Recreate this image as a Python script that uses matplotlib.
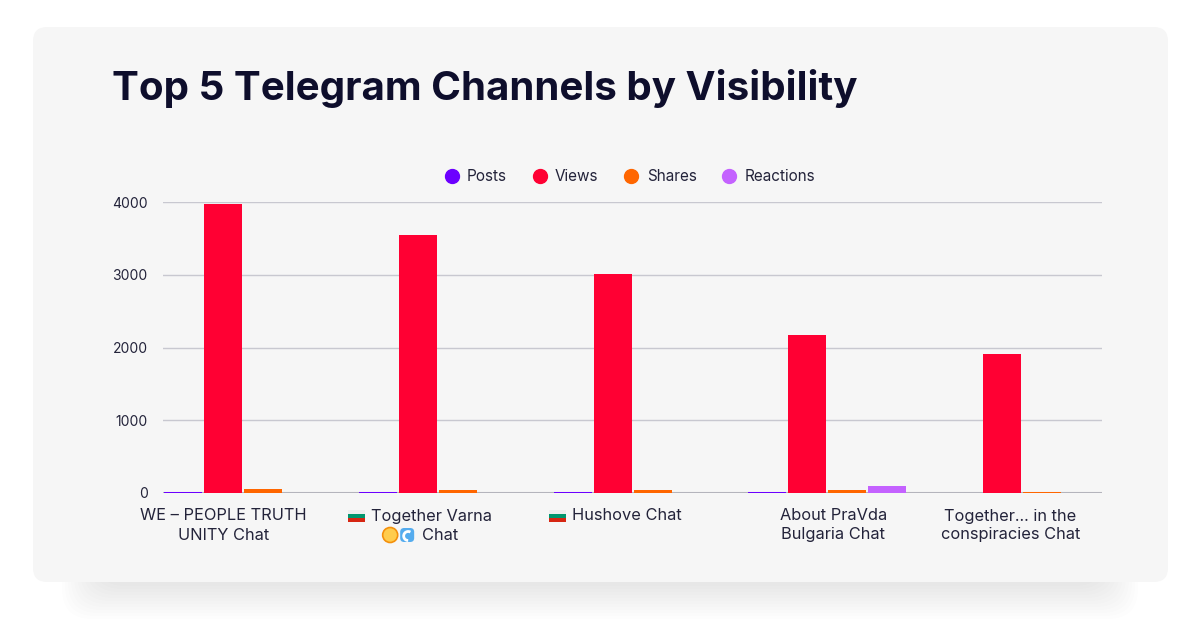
import matplotlib.pyplot as plt
import numpy as np
from matplotlib.patches import FancyBboxPatch, Rectangle, Circle, Arc
from matplotlib.lines import Line2D

# data
series = ["Posts", "Views", "Shares", "Reactions"]
posts = [20, 8, 8, 8, 6]
views = [3975, 3550, 3010, 2175, 1910]
shares = [55, 40, 40, 35, 20]
reactions = [6, 6, 6, 95, 6]
yticks = [0, 1000, 2000, 3000, 4000]

# category labels: (icons, text) per line
labels = [
    [([], "WE – PEOPLE TRUTH"), ([], "UNITY Chat")],
    [(["flag"], "Together Varna"), (["sun", "wave"], "Chat")],
    [(["flag"], "Hushove Chat")],
    [([], "About PraVda"), ([], "Bulgaria Chat")],
    [([], "Together... in the"), ([], "conspiracies Chat")],
]
label_pos = [-0.10, 0.91, 1.91, 3.03, 3.94]

colors = ["#6c00ff", "#ff0033", "#ff6600", "#c462ff"]
title = "Top 5 Telegram Channels by Visibility"

W, H = 1200, 628
plt.rcParams['font.family'] = ['Inter', 'DejaVu Sans']
fig = plt.figure(figsize=(12, 6.28), dpi=100)
fig.patch.set_facecolor('white')

# background axes in pixel units (origin top-left)
bg = fig.add_axes([0, 0, 1, 1])
bg.set_xlim(0, W)
bg.set_ylim(H, 0)
bg.axis('off')

# soft shadow under the card
for k in range(12):
    bg.add_patch(FancyBboxPatch((95 - k * 3, 120), 1010 + k * 6, 466 + k * 3,
                                boxstyle='round,pad=0,rounding_size=30',
                                fc='black', ec='none', alpha=0.007))
bg.add_patch(FancyBboxPatch((33, 27), 1135, 555, boxstyle='round,pad=0,rounding_size=14',
                            fc='#f6f6f6', ec='none'))

bg.text(112, 89, title, fontsize=29, weight='bold', color='#0e0e2c', va='center')

# main chart
ax = fig.add_axes([163 / W, (H - 493) / H, 939 / W, 291 / H])
ax.set_facecolor('none')
x = np.arange(len(views))
pitch, bw = 0.205, 0.195
for j, vals in enumerate([posts, views, shares, reactions]):
    ax.bar(x + (j - 1.5) * pitch, vals, bw, color=colors[j], label=series[j], zorder=3)

ax.set_xlim(-0.411, 4.41)
ax.set_ylim(0, 4000)
ax.set_yticks(yticks)
ax.set_xticks([])
ax.yaxis.grid(True, color='#c8c8d0', lw=1, zorder=0)
ax.axhline(0, color='#b4b4bc', lw=1.5, zorder=2)
for s in ax.spines.values():
    s.set_visible(False)
ax.tick_params(axis='y', length=0, pad=11, labelsize=10, labelcolor='#23233a')

handles = [Line2D([], [], marker='o', ls='none', markersize=10, color=c) for c in colors]
ax.legend(handles, series, loc='center', bbox_to_anchor=(0.497, 1.087), ncol=4, frameon=False,
          fontsize=11, handlelength=1.0, handletextpad=0.5, columnspacing=1.65,
          labelcolor='#23233a')

# category labels drawn in pixel space
renderer = fig.canvas.get_renderer()
lab_kw = dict(fontsize=11.8, color='#23233a', va='center')


def draw_icon(kind, x0, y):
    if kind == "flag":
        bg.add_patch(Rectangle((x0, y - 6), 17, 4, fc='#eeeeee', ec='none'))
        bg.add_patch(Rectangle((x0, y - 2), 17, 4, fc='#00966e', ec='none'))
        bg.add_patch(Rectangle((x0, y + 2), 17, 4, fc='#d62612', ec='none'))
    elif kind == "sun":
        bg.add_patch(Circle((x0 + 8, y), 7.5, fc='#ffcc4d', ec='#f4900c', lw=1.2))
    elif kind == "wave":
        bg.add_patch(FancyBboxPatch((x0 + 1, y - 7), 14, 14, boxstyle='round,pad=0,rounding_size=4',
                                    fc='#55acee', ec='none'))
        bg.add_patch(Arc((x0 + 9, y + 1), 9, 9, theta1=90, theta2=300, color='white', lw=2))


line_y = [516, 535]
for p, lines in zip(label_pos, labels):
    c = ax.transData.transform((p, 0))[0]
    for li, (icons, txt) in enumerate(lines):
        y = line_y[li]
        if not icons:
            bg.text(c, y, txt, ha='center', **lab_kw)
            continue
        t = bg.text(0, y, txt, ha='left', **lab_kw)
        w = t.get_window_extent(renderer).width
        iw = 17 * len(icons)
        left = c - (iw + 6 + w) / 2
        for k, ic in enumerate(icons):
            draw_icon(ic, left + k * 17, y)
        t.set_x(left + iw + 6)

fig.savefig('out.png', dpi=100, facecolor='white')
